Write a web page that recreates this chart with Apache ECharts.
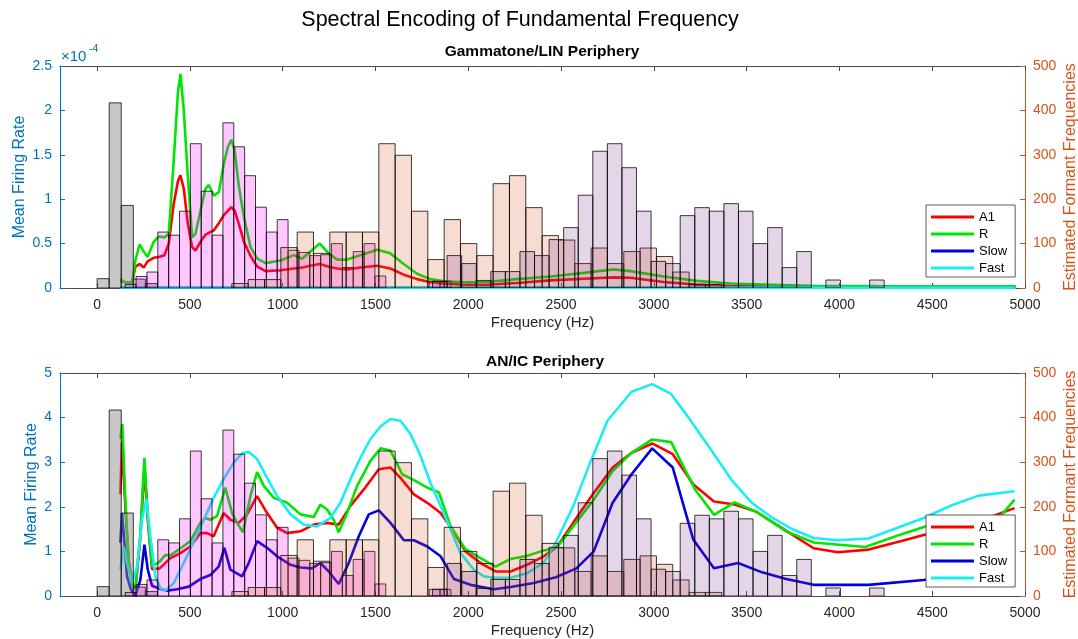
<!DOCTYPE html>
<html><head><meta charset="utf-8">
<script src="https://cdn.jsdelivr.net/npm/echarts@6.0.0/dist/echarts.min.js"></script>
<style>html,body{margin:0;padding:0;background:#fff}#c{width:1078px;height:639px}</style>
</head><body><div id="c"></div>
<script>
// ---------------- DATA ----------------
const xTickValues = [0, 500, 1000, 1500, 2000, 2500, 3000, 3500, 4000, 4500, 5000];
const seriesNames = ['A1', 'R', 'Slow', 'Fast'];

// Histograms of estimated formant frequencies (bin start Hz, bin width Hz, counts)
const f0Start = 0,      f0Width = 65;
const f0Counts = [21, 417, 186, 20, 10];
const f1Start = 151.5,  f1Width = 58.5;
const f1Counts = [8, 26, 36, 126, 119, 173, 325, 218, 119, 372, 318, 253, 182, 126, 154, 85, 80, 73, 75, 100, 46, 82, 100, 27, 0, 0, 0, 0, 15, 15];
const f2Start = 726,    f2Width = 88;
const f2Counts = [10, 19, 19, 91, 126, 78, 126, 126, 126, 325, 299, 173, 64, 154, 100, 73, 235, 253, 181, 118, 108, 55, 90, 55, 82, 90, 71, 36, 8, 8];
const f3Start = 1807.5, f3Width = 78.5;
const f3Counts = [15, 73, 55, 17, 37, 37, 82, 73, 109, 136, 209, 308, 325, 271, 173, 60, 55, 163, 181, 173, 190, 173, 100, 136, 46, 82, 0, 18, 0, 0, 18];

// Top panel (Gammatone/LIN), mean firing rate in units of 1e-4
const topFreq = [125, 134, 161, 188, 206, 229, 251, 272, 305, 332, 363, 386, 413, 435, 449, 467, 489, 512, 530, 557, 584, 602, 629, 656, 683, 705, 723, 741, 764, 791, 827, 863, 908, 989, 1060, 1105, 1149, 1200, 1248, 1293, 1347, 1419, 1509, 1580, 1652, 1724, 1796, 1868, 1958, 2083, 2263, 2442, 2622, 2783, 2873, 3053, 3232, 3412, 3591, 3843, 4200, 4600, 4950];
const topR  = [0.10, 0.086, 0.05, 0.056, 0.31, 0.49, 0.41, 0.35, 0.52, 0.58, 0.57, 0.61, 1.44, 2.19, 2.41, 2.0, 1.25, 0.57, 0.61, 0.87, 1.12, 1.16, 1.04, 1.08, 1.40, 1.59, 1.67, 1.55, 1.14, 0.80, 0.46, 0.33, 0.28, 0.31, 0.37, 0.33, 0.41, 0.50, 0.39, 0.32, 0.32, 0.37, 0.43, 0.39, 0.27, 0.16, 0.10, 0.075, 0.068, 0.064, 0.10, 0.13, 0.17, 0.21, 0.19, 0.13, 0.08, 0.05, 0.04, 0.026, 0.022, 0.02, 0.02];
const topA1 = [0.08, 0.08, 0.06, 0.06, 0.24, 0.27, 0.23, 0.30, 0.34, 0.35, 0.37, 0.5, 0.95, 1.2, 1.27, 1.12, 0.72, 0.46, 0.42, 0.52, 0.60, 0.62, 0.65, 0.73, 0.82, 0.87, 0.91, 0.87, 0.72, 0.52, 0.36, 0.24, 0.19, 0.20, 0.22, 0.23, 0.25, 0.27, 0.24, 0.22, 0.21, 0.23, 0.25, 0.22, 0.15, 0.10, 0.065, 0.05, 0.04, 0.034, 0.056, 0.086, 0.105, 0.12, 0.115, 0.068, 0.038, 0.023, 0.015, 0.012, 0.01, 0.01, 0.01];
const topLowFreq = [125, 500, 1000, 2000, 3000, 4000, 4950];
const topSlow = [0.003, 0.004, 0.003, 0.002, 0.002, 0.002, 0.002];
const topFast = [0.006, 0.008, 0.006, 0.004, 0.004, 0.004, 0.004];

// Bottom panel (AN/IC), mean firing rate
const botRFreq = [125, 136, 152, 170, 188, 206, 233, 255, 273, 296, 337, 368, 395, 449, 503, 556, 583, 610, 646, 691, 727, 754, 786, 826, 862, 898, 952, 1024, 1096, 1167, 1203, 1239, 1275, 1302, 1347, 1401, 1473, 1527, 1581, 1644, 1707, 1779, 1842, 1905, 1985, 2066, 2147, 2228, 2317, 2389, 2480, 2565, 2676, 2778, 2880, 2991, 3093, 3222, 3324, 3435, 3565, 3713, 3861, 4139, 4324, 4463, 4602, 4850, 4944];
const botR = [3.52, 3.86, 2.17, 0.74, 0.29, 0.14, 1.41, 3.1, 1.79, 0.66, 0.77, 0.92, 0.91, 1.07, 1.23, 1.64, 1.75, 1.71, 1.79, 2.43, 1.86, 1.64, 1.43, 2.24, 2.78, 2.47, 2.2, 2.09, 1.83, 1.77, 2.05, 1.94, 1.71, 1.43, 1.86, 2.47, 3.03, 3.31, 3.26, 2.73, 2.6, 2.43, 2.32, 1.56, 1.05, 0.85, 0.66, 0.83, 0.9, 1.0, 1.1, 1.56, 2.16, 2.8, 3.21, 3.51, 3.45, 2.39, 1.82, 2.1, 1.86, 1.45, 1.2, 1.1, 1.37, 1.56, 1.64, 1.7, 2.16];
const botA1Freq = [125, 134, 152, 170, 188, 206, 233, 255, 273, 296, 337, 395, 449, 503, 556, 592, 628, 682, 718, 763, 808, 862, 916, 970, 1024, 1096, 1167, 1239, 1302, 1365, 1437, 1518, 1581, 1635, 1707, 1779, 1851, 1914, 1985, 2066, 2147, 2228, 2317, 2407, 2480, 2565, 2676, 2778, 2880, 2991, 3102, 3213, 3324, 3435, 3546, 3676, 3861, 3991, 4157, 4324, 4454, 4700, 4944];
const botA1 = [2.28, 3.45, 2.0, 0.8, 0.3, 0.15, 1.3, 2.9, 1.7, 0.6, 0.62, 0.85, 0.96, 1.11, 1.41, 1.41, 1.34, 1.86, 1.71, 1.64, 1.83, 2.24, 1.86, 1.53, 1.41, 1.45, 1.6, 1.64, 1.6, 2.02, 2.39, 2.84, 2.88, 2.65, 2.28, 2.09, 1.86, 1.49, 1.0, 0.74, 0.55, 0.55, 0.7, 0.89, 1.11, 1.64, 2.31, 2.88, 3.21, 3.42, 3.18, 2.5, 2.12, 2.05, 1.9, 1.56, 1.07, 0.98, 1.04, 1.22, 1.37, 1.6, 1.97];
const botSlowFreq = [125, 134, 147, 161, 183, 206, 233, 255, 273, 296, 332, 377, 431, 494, 556, 610, 655, 686, 718, 781, 817, 862, 916, 970, 1042, 1096, 1159, 1203, 1248, 1302, 1356, 1410, 1464, 1518, 1581, 1653, 1707, 1779, 1851, 1923, 2012, 2138, 2228, 2353, 2472, 2583, 2676, 2778, 2880, 2991, 3102, 3213, 3324, 3454, 3583, 3713, 3861, 4157, 4454, 4944];
const botSlow = [1.19, 1.86, 1.19, 0.44, 0.14, 0.0, 0.36, 1.15, 0.59, 0.23, 0.17, 0.12, 0.15, 0.21, 0.38, 0.47, 0.66, 1.08, 0.59, 0.44, 0.74, 1.23, 1.08, 0.89, 0.7, 0.64, 0.62, 0.74, 0.55, 0.27, 0.74, 1.34, 1.83, 1.92, 1.64, 1.25, 1.25, 1.11, 0.89, 0.38, 0.25, 0.15, 0.2, 0.29, 0.42, 0.62, 1.0, 2.09, 2.73, 3.31, 2.88, 1.26, 0.62, 0.74, 0.53, 0.38, 0.25, 0.25, 0.36, 0.65];
const botFastFreq = [125, 143, 161, 188, 215, 242, 265, 287, 314, 341, 368, 413, 467, 521, 575, 628, 682, 736, 781, 817, 862, 916, 970, 1042, 1114, 1185, 1257, 1311, 1365, 1419, 1473, 1527, 1581, 1635, 1689, 1743, 1796, 1851, 1905, 1958, 2030, 2084, 2138, 2228, 2317, 2407, 2472, 2565, 2657, 2750, 2880, 2991, 3093, 3194, 3306, 3417, 3528, 3639, 3750, 3861, 3991, 4157, 4306, 4454, 4602, 4750, 4944];
const botFast = [0.59, 1.11, 0.74, 0.29, 0.66, 1.71, 2.17, 1.34, 0.44, 0.17, 0.12, 0.29, 0.74, 1.23, 1.71, 2.2, 2.62, 2.99, 3.2, 3.23, 3.07, 2.65, 2.24, 1.83, 1.6, 1.56, 1.75, 2.09, 2.62, 3.1, 3.52, 3.8, 3.97, 3.93, 3.63, 3.14, 2.54, 2.02, 1.49, 0.96, 0.59, 0.44, 0.41, 0.41, 0.51, 0.75, 1.2, 2.01, 2.99, 3.93, 4.58, 4.75, 4.53, 3.96, 3.29, 2.61, 2.09, 1.75, 1.49, 1.3, 1.25, 1.29, 1.52, 1.75, 2.03, 2.25, 2.35];

// ---------------- CHART ----------------
const FONT = "'Liberation Sans', Arial, Helvetica, sans-serif";
const BLUE = '#0072BD', ORANGE = '#D95319', AXIS = '#4a4a4a', TXT = '#262626';
const COLORS = {A1: '#ff0000', R: '#00e600', Slow: '#0000e0', Fast: '#19eef5'};
const HIST_FILL = ['rgba(140,140,140,0.48)', 'rgba(255,0,255,0.22)', 'rgba(217,83,25,0.2)', 'rgba(126,47,142,0.2)'];

function zip(a, b) { return a.map((v, i) => [v, b[i]]); }
function bins(start, width, counts) {
  const out = [];
  counts.forEach((c, i) => { if (c > 0) out.push([start + i * width, start + (i + 1) * width, c]); });
  return out;
}
const histData = [bins(f0Start, f0Width, f0Counts), bins(f1Start, f1Width, f1Counts), bins(f2Start, f2Width, f2Counts), bins(f3Start, f3Width, f3Counts)];

function makeRender(fill) {
  return function (params, api) {
    const a = api.coord([api.value(0), 0]);
    const b = api.coord([api.value(1), api.value(2)]);
    return {type: 'rect', shape: {x: a[0], y: b[1], width: b[0] - a[0], height: a[1] - b[1]},
      style: {fill: fill, stroke: 'rgba(0,0,0,0.85)', lineWidth: 0.9}};
  };
}
const plain = v => String(v);

const grids = [
  {left: 60, top: 66, width: 965, height: 222, outerBoundsMode: 'none', containLabel: false},
  {left: 60, top: 373, width: 965, height: 223, outerBoundsMode: 'none', containLabel: false}
];

const xAxes = [], yAxes = [];
[0, 1].forEach(gi => {
  xAxes.push({type: 'value', gridIndex: gi, position: 'bottom', min: -200, max: 5000,
    name: 'Frequency (Hz)', nameLocation: 'middle', nameGap: 27, nameMoveOverlap: false,
    nameTextStyle: {fontSize: 15, color: TXT, fontFamily: FONT},
    axisLine: {onZero: false, lineStyle: {color: AXIS, width: 1}},
    axisTick: {inside: true, length: 5, customValues: xTickValues, lineStyle: {color: AXIS}},
    axisLabel: {customValues: xTickValues, formatter: plain, margin: 10, fontSize: 14, color: TXT, fontFamily: FONT},
    splitLine: {show: false}});
  xAxes.push({type: 'value', gridIndex: gi, position: 'top', min: -200, max: 5000,
    axisLine: {onZero: false, lineStyle: {color: AXIS, width: 1}},
    axisTick: {inside: true, length: 5, customValues: xTickValues, lineStyle: {color: AXIS}},
    axisLabel: {show: false}, splitLine: {show: false}});
  yAxes.push({type: 'value', gridIndex: gi, position: 'left', min: 0, max: gi ? 5 : 2.5, interval: gi ? 1 : 0.5,
    name: 'Mean Firing Rate', nameLocation: 'middle', nameGap: gi ? 20 : 32, nameRotate: 90, nameMoveOverlap: false,
    nameTextStyle: {fontSize: 16, color: BLUE, fontFamily: FONT},
    axisLine: {show: true, onZero: false, lineStyle: {color: BLUE, width: 1}},
    axisTick: {show: true, inside: true, length: 5, lineStyle: {color: BLUE}},
    axisLabel: {formatter: plain, color: BLUE, fontSize: 14, margin: 8, fontFamily: FONT},
    splitLine: {show: false}});
  yAxes.push({type: 'value', gridIndex: gi, position: 'right', min: 0, max: 500, interval: 100,
    name: 'Estimated Formant Frequencies', nameLocation: 'middle', nameGap: 38, nameRotate: 90, nameMoveOverlap: false,
    nameTextStyle: {fontSize: 16, color: ORANGE, fontFamily: FONT},
    axisLine: {show: true, onZero: false, lineStyle: {color: ORANGE, width: 1}},
    axisTick: {show: true, inside: true, length: 5, lineStyle: {color: ORANGE}},
    axisLabel: {formatter: plain, color: ORANGE, fontSize: 14, margin: 8, fontFamily: FONT},
    splitLine: {show: false}});
});

const series = [];
function lineSeries(name, gi, data) {
  return {type: 'line', name: name, xAxisIndex: gi * 2, yAxisIndex: gi * 2, data: data,
    showSymbol: false, symbol: 'none', smooth: false, z: 2,
    lineStyle: {width: 2.6, color: COLORS[name]}, itemStyle: {color: COLORS[name]}};
}
series.push(lineSeries('A1', 0, zip(topFreq, topA1)));
series.push(lineSeries('R', 0, zip(topFreq, topR)));
series.push(lineSeries('Slow', 0, zip(topLowFreq, topSlow)));
series.push(lineSeries('Fast', 0, zip(topLowFreq, topFast)));
series.push(lineSeries('A1', 1, zip(botA1Freq, botA1)));
series.push(lineSeries('R', 1, zip(botRFreq, botR)));
series.push(lineSeries('Slow', 1, zip(botSlowFreq, botSlow)));
series.push(lineSeries('Fast', 1, zip(botFastFreq, botFast)));
[0, 1].forEach(gi => {
  histData.forEach((d, k) => {
    series.push({type: 'custom', xAxisIndex: gi * 2, yAxisIndex: gi * 2 + 1, data: d, clip: true, z: 3,
      encode: {x: [0, 1], y: 2}, renderItem: makeRender(HIST_FILL[k]), silent: true});
  });
});

function legendAt(top) {
  return {data: seriesNames.map(n => ({name: n, icon: 'rect'})), orient: 'vertical', left: 926, top: top,
    itemWidth: 43, itemHeight: 3, itemGap: 3, padding: [5, 8, 2, 5],
    backgroundColor: '#fff', borderColor: '#333', borderWidth: 0.8, borderRadius: 0,
    textStyle: {fontSize: 13, lineHeight: 14, color: '#000', fontFamily: FONT}, selectedMode: false, z: 10};
}

const option = {
  animation: false,
  backgroundColor: '#fff',
  grid: grids,
  xAxis: xAxes,
  yAxis: yAxes,
  legend: [legendAt(205), legendAt(515)],
  series: series,
  graphic: [
    {type: 'text', x: 520, y: 20, style: {text: 'Spectral Encoding of Fundamental Frequency', fontSize: 21.5, fontFamily: FONT, fill: '#000', align: 'center', verticalAlign: 'middle'}},
    {type: 'text', x: 542, y: 52, style: {text: 'Gammatone/LIN Periphery', fontSize: 15.5, fontWeight: 'bold', fontFamily: FONT, fill: '#000', align: 'center', verticalAlign: 'middle'}},
    {type: 'text', x: 545, y: 362, style: {text: 'AN/IC Periphery', fontSize: 15.5, fontWeight: 'bold', fontFamily: FONT, fill: '#000', align: 'center', verticalAlign: 'middle'}},
    {type: 'text', x: 61, y: 57, style: {text: '×10', fontSize: 15, fontFamily: FONT, fill: BLUE, align: 'left', verticalAlign: 'middle'}},
    {type: 'text', x: 89, y: 49, style: {text: '-4', fontSize: 10.5, fontFamily: FONT, fill: BLUE, align: 'left', verticalAlign: 'middle'}}
  ]
};
const chart = echarts.init(document.getElementById('c'));
chart.setOption(option);
</script></body></html>
